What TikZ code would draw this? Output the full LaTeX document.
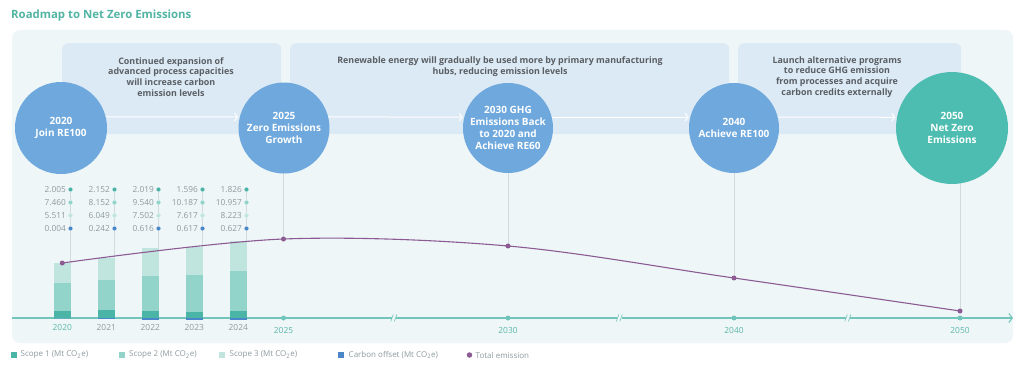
\documentclass[tikz,border=0pt]{standalone}
\usepackage{fontspec}
\setmainfont{Open Sans}
\usetikzlibrary{arrows.meta,calc}
\definecolor{ctitle}{HTML}{52B4A4}
\definecolor{cpanel}{HTML}{EEF6F8}
\definecolor{cbanner}{HTML}{DCEAF6}
\definecolor{cblue}{HTML}{6EA8DD}
\definecolor{cgreen}{HTML}{4EBDB1}
\definecolor{sone}{HTML}{4AB5A6}
\definecolor{stwo}{HTML}{92D4CA}
\definecolor{sthree}{HTML}{C0E5DF}
\definecolor{soff}{HTML}{4B87C8}
\definecolor{cpurple}{HTML}{8D5B93}
\definecolor{caxis}{HTML}{72C5BA}
\definecolor{cyear}{HTML}{5BB7AA}
\definecolor{cgrey}{HTML}{8E9BA0}
\definecolor{cbtext}{HTML}{5A5F63}
\definecolor{cguide}{HTML}{D3DADD}
\begin{document}
\begin{tikzpicture}[x=1pt,y=-1pt,
  banner/.style={fill=cbanner,rounded corners=6pt,anchor=north west,inner sep=0pt},
  btext/.style={text=cbtext,font=\bfseries\fontsize{8.9}{10.8}\selectfont,align=center},
  circ/.style={circle,inner sep=0pt,text=white,font=\bfseries\fontsize{10}{12}\selectfont,align=center},
  bluec/.style={circ,fill=cblue,minimum size=#1},
  greenc/.style={circ,fill=cgreen,minimum size=#1},
  arr/.style={draw=white,line width=1pt,-{Straight Barb[length=3pt,width=8pt]},shorten >=1.5pt},
  guide/.style={draw=cguide,line width=0.6pt},
  axisline/.style={draw=caxis,line width=1.1pt},
  num/.style={text=cgrey,font=\fontsize{8.3}{9}\selectfont,anchor=east,inner sep=0pt},
  yr/.style={font=\fontsize{8.4}{9}\selectfont,inner sep=0pt},
  pdot/.style={circle,fill=cpurple,inner sep=0pt,minimum size=5pt},
  adot/.style={circle,fill=caxis,inner sep=0pt,minimum size=5pt},
  ddot/.style={circle,inner sep=0pt,minimum size=4.2pt},
  leg/.style={text=cgrey,font=\fontsize{8}{9}\selectfont,anchor=west,inner sep=0pt},
  lsq/.style={inner sep=0pt,minimum size=6pt}
]
\useasboundingbox (0,0) rectangle (1024,369);
\fill[white] (0,0) rectangle (1024,369);
\node[anchor=base west,inner sep=0pt,text=ctitle,font=\bfseries\fontsize{11.4}{14}\selectfont] (title) at (11,19) {Roadmap to Net Zero Emissions};
\fill[cpanel,rounded corners=8pt] (12,30) rectangle (1013,343);

% banners
\node[banner,minimum width=219pt,minimum height=91pt] (b1) at (62,43) {};
\node[banner,minimum width=439pt,minimum height=91pt] (b2) at (290,43) {};
\node[banner,minimum width=223pt,minimum height=91pt] (b3) at (738,43) {};
\node[btext] (t1) at (171,77) {Continued expansion of\\advanced process capacities\\will increase carbon\\emission levels};
\node[btext] (t2) at (500,66.5) {Renewable energy will gradually be used more by primary manufacturing\\hubs, reducing emission levels};
\node[btext] (t3) at (837,77) {Launch alternative programs\\to reduce GHG emission\\from processes and acquire\\carbon credits externally};

% total emission curve points
\coordinate (P0) at (62.25,263);
\coordinate (P1) at (283.5,239);
\coordinate (P2) at (508,246);
\coordinate (P3) at (734,278);
\coordinate (P4) at (960,311);

% circles positions
\coordinate (k2020) at (61,128);
\coordinate (k2025) at (284,128);
\coordinate (k2030) at (508,128);
\coordinate (k2040) at (734,128);
\coordinate (k2050) at (952,128);

% guides from circles
\draw[guide] (k2025 -| P1) -- (P1);
\draw[guide] (k2030 -| P2) -- (P2);
\draw[guide] (k2040 -| P3) -- (P3);
\draw[guide] (k2050 -| P4) -- (P4);

% circles
\node[bluec=92pt] (c2020) at (k2020) {2020\\Join RE100};
\node[bluec=91pt] (c2025) at (k2025) {2025\\Zero Emissions\\Growth};
\node[bluec=90pt] (c2030) at (k2030) {2030 GHG\\Emissions Back\\to 2020 and\\Achieve RE60};
\node[bluec=90pt] (c2040) at (k2040) {2040\\Achieve RE100};
\node[greenc=112pt] (c2050) at (k2050) {2050\\Net Zero\\Emissions};

% arrows
\draw[arr] (c2020.14) -- (c2025.166);
\draw[arr] (c2025.14) -- (c2030.166);
\draw[arr] (c2030.14) -- (c2040.166);
\draw[arr] (c2040.14) -- (c2050.169);

% axis
\coordinate (ax0) at (12,318);
\coordinate (ax1) at (1013,318);
\draw[axisline,-{Straight Barb[length=3.5pt,width=9pt]}] (ax0) -- (ax1);
\foreach \x in {394,619.5,848}{
  \fill[cpanel] ({\x-2.2},314) rectangle ({\x+2.2},322);
  \draw[draw=caxis,line width=0.6pt] ({\x-3.2},321.5) -- ({\x-0.7},314.5) ({\x+0.3},321.5) -- ({\x+2.8},314.5);
}

% bars and data
\def\k{3.67}
\foreach \i/\a/\b/\c/\d in {0/2.005/7.460/5.511/0.004,1/2.152/8.152/6.049/0.242,2/2.019/9.540/7.502/0.616,3/1.596/10.187/7.617/0.617,4/1.826/10.957/8.223/0.627}{
  \pgfmathsetmacro\dx{70.5+44*\i}
  \pgfmathsetmacro\xl{\dx-16.5}
  \pgfmathsetmacro\ya{318-\k*\a}
  \pgfmathsetmacro\yb{\ya-\k*\b}
  \pgfmathsetmacro\yc{\yb-\k*\c}
  \pgfmathsetmacro\yd{318+\k*\d}
  \coordinate (bt\i) at (\dx,\yc);
  \node[ddot,fill=sone] (da\i) at (\dx,189.5) {};
  \node[ddot,fill=stwo] (db\i) at (\dx,202.5) {};
  \node[ddot,fill=sthree] (dc\i) at (\dx,215.5) {};
  \node[ddot,fill=soff] (dd\i) at (\dx,228.5) {};
  \draw[guide] (da\i.south) -- (db\i.north) (db\i.south) -- (dc\i.north) (dc\i.south) -- (dd\i.north) (dd\i.south) -- (bt\i);
  \node[num] (na\i) at ({\dx-4.5},189.5) {\a};
  \node[num] (nb\i) at ({\dx-4.5},202.5) {\b};
  \node[num] (nc\i) at ({\dx-4.5},215.5) {\c};
  \node[num] (nd\i) at ({\dx-4.5},228.5) {\d};
  \fill[sone] (\xl,318) rectangle (\dx,\ya);
  \fill[stwo] (\xl,\ya) rectangle (\dx,\yb);
  \fill[sthree] (\xl,\yb) rectangle (\dx,\yc);
  \fill[soff] (\xl,318) rectangle (\dx,\yd);
}

% total emission curve
\draw[cpurple,line width=1.1pt] plot[smooth,tension=0.55] coordinates {(P0) (P1) (P2) (P3) (P4)};
\foreach \p in {0,1,2,3,4}{ \node[pdot] (pd\p) at (P\p) {}; }

% axis dots and years
\node[adot] (a2025) at (283.5,318) {};
\node[adot] (a2030) at (508,318) {};
\node[adot] (a2040) at (734,318) {};
\node[adot] (a2050) at (960,318) {};
\node[yr,text=cyear] (y2020) at (62.25,327) {2020};
\node[yr,text=cgrey] (y2021) at (106.25,327) {2021};
\node[yr,text=cgrey] (y2022) at (150.25,327) {2022};
\node[yr,text=cgrey] (y2023) at (194.25,327) {2023};
\node[yr,text=cgrey] (y2024) at (238.25,327) {2024};
\node[yr,text=cyear] (y2025) at (283.5,330.5) {2025};
\node[yr,text=cyear] (y2030) at (508,330.5) {2030};
\node[yr,text=cyear] (y2040) at (734,330.5) {2040};
\node[yr,text=cyear] (y2050) at (960,330.5) {2050};

% legend
\node[lsq,fill=sone] (l1) at (13.5,355) {};
\node[leg] (lt1) at (20.5,355) {Scope 1 (Mt CO\textsubscript{2}e)};
\node[lsq,fill=stwo] (l2) at (122,355) {};
\node[leg] (lt2) at (129,355) {Scope 2 (Mt CO\textsubscript{2}e)};
\node[lsq,fill=sthree] (l3) at (222,355) {};
\node[leg] (lt3) at (229.5,355) {Scope 3 (Mt CO\textsubscript{2}e)};
\node[lsq,fill=soff] (l4) at (341,355) {};
\node[leg] (lt4) at (348.5,355) {Carbon offset (Mt CO\textsubscript{2}e)};
\node[pdot,minimum size=5.5pt] (l5) at (469.5,355) {};
\node[leg] (lt5) at (475.5,355) {Total emission};
\end{tikzpicture}
\end{document}
